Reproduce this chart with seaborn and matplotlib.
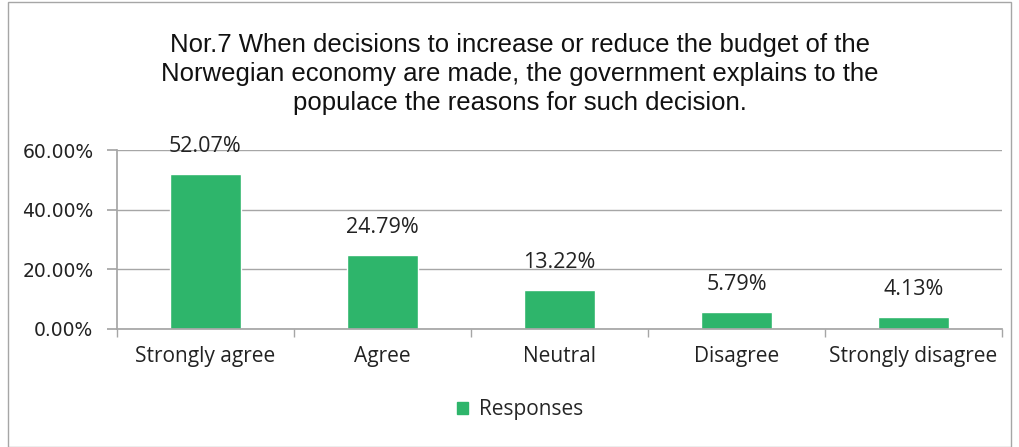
import matplotlib
matplotlib.use("Agg")
import matplotlib.pyplot as plt
import seaborn as sns
import pandas as pd
from matplotlib.patches import Rectangle
from matplotlib.ticker import FuncFormatter, FixedLocator

categories = ["Strongly agree", "Agree", "Neutral", "Disagree", "Strongly disagree"]
values = [52.07, 24.79, 13.22, 5.79, 4.13]
series_name = "Responses"
title = ("Nor.7 When decisions to increase or reduce the budget of the\n"
         "Norwegian economy are made, the government explains to the\n"
         "populace the reasons for such decision.")

df = pd.DataFrame({"category": categories, "value": values, "series": series_name})

sns.set_theme(style="white")
plt.rcParams["font.family"] = ["DejaVu Sans"]

GREEN = "#2EB56B"
fig = plt.figure(figsize=(10.19, 4.47), dpi=100)
ax = fig.add_axes([117/1019, 1-329/447, (1002-117)/1019, (329-150)/447])

sns.barplot(data=df, x="category", y="value", hue="series", palette=[GREEN],
            width=0.4, ax=ax, legend=False, saturation=1)

ax.set_ylim(0, 60)
ax.set_xlim(-0.5, len(categories)-0.5)
ax.yaxis.set_major_locator(FixedLocator([0, 20, 40, 60]))
ax.yaxis.set_major_formatter(FuncFormatter(lambda v, p: f"{v:.2f}%"))
ax.grid(axis="y", color="#a6a6a6", linewidth=1)
ax.set_axisbelow(True)
for s in ["top", "right"]:
    ax.spines[s].set_visible(False)
ax.spines["left"].set_color("#a6a6a6")
ax.spines["bottom"].set_color("#a6a6a6")
ax.tick_params(axis="y", which="both", left=True, length=7, color="#a6a6a6",
               labelsize=13.5, labelcolor="#222222", pad=10)
ax.set_xticks(range(len(categories)))
ax.set_xticklabels(categories, fontfamily="Open Sans", fontsize=15, color="#222222")
ax.tick_params(axis="x", which="major", length=0, pad=12)
ax.set_xticks([i - 0.5 for i in range(len(categories)+1)], minor=True)
ax.tick_params(axis="x", which="minor", bottom=True, length=6, color="#a6a6a6")
ax.set_xlabel("")
ax.set_ylabel("")

for i, v in enumerate(values):
    ax.annotate(f"{v:.2f}%", (i, v), xytext=(0, 12), textcoords="offset points",
                ha="center", va="bottom", fontsize=15.5, fontfamily="Open Sans",
                color="#222222")

fig.text(0.51, 1-74/447, title, ha="center", va="center", fontsize=18.5,
         fontfamily="Liberation Sans", color="#111111", linespacing=1.26)

fig.legend(handles=[Rectangle((0, 0), 1, 1, color=GREEN)], labels=[series_name],
           loc="center", bbox_to_anchor=(0.51, 1-410/447), frameon=False,
           prop={"family": "Open Sans", "size": 15}, handlelength=0.55,
           handleheight=0.55, handletextpad=0.5)

fig.patches.append(Rectangle((8/1019, 0), 1-16/1019, 1-2/447, transform=fig.transFigure,
                             fill=False, edgecolor="#a6a6a6", linewidth=1))

fig.savefig("out.png", dpi=100)
